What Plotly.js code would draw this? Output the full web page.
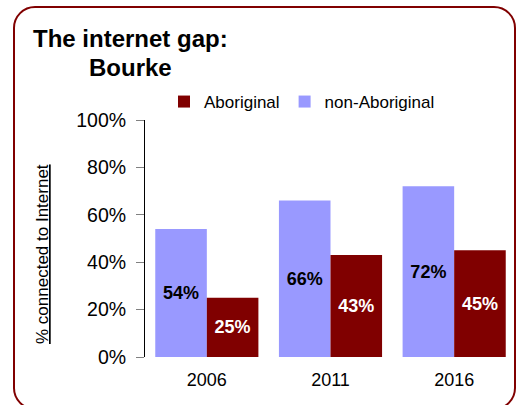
<!DOCTYPE html>
<html>
<head>
<meta charset="utf-8">
<script src="https://cdn.plot.ly/plotly-3.0.1.min.js"></script>
<style>
  html, body { margin: 0; padding: 0; background: #ffffff; }
  #wrap { position: relative; width: 520px; height: 405px; overflow: hidden; }
  #frame { position: absolute; left: 13px; top: 6px; width: 503px; height: 404px;
           box-sizing: border-box; border: 2.5px solid #800000; border-radius: 22px; }
  #chart { position: absolute; left: 0; top: 0; width: 520px; height: 405px; }
</style>
</head>
<body>
<div id="wrap">
  <div id="frame"></div>
  <div id="chart"></div>
</div>
<script>
// ---- data ----
const years = ["2006", "2011", "2016"];
const nonAboriginal = [0.54, 0.66, 0.72];
const aboriginal = [0.25, 0.43, 0.45];
const seriesNames = ["Aboriginal", "non-Aboriginal"];
const titleLine1 = "The internet gap:";
const titleLine2 = "Bourke";
const yAxisTitle = "% connected to Internet";

// ---- layout helpers (pixel -> paper) ----
const W = 520, H = 405;
const M = { l: 145, r: 4, t: 120, b: 48 };
const pw = W - M.l - M.r, ph = H - M.t - M.b;
const px = x => (x - M.l) / pw;
const py = y => (H - M.b - y) / ph;

const sans = '"Liberation Sans", Arial, Helvetica, sans-serif';

const traces = [
  {
    type: "bar", name: seriesNames[1], x: years, y: nonAboriginal,
    marker: { color: "#9999ff" },
    texttemplate: "%{y:.0%}", textposition: "inside", insidetextanchor: "middle",
    textangle: 0, constraintext: "none",
    textfont: { family: sans, size: 18, color: "#000000", weight: "bold" },
    hoverinfo: "skip"
  },
  {
    type: "bar", name: seriesNames[0], x: years, y: aboriginal,
    marker: { color: "#800000" },
    texttemplate: "%{y:.0%}", textposition: "inside", insidetextanchor: "middle",
    textangle: 0, constraintext: "none",
    textfont: { family: sans, size: 18, color: "#ffffff", weight: "bold" },
    hoverinfo: "skip"
  }
];

const layout = {
  width: W, height: H,
  margin: M,
  paper_bgcolor: "rgba(0,0,0,0)",
  plot_bgcolor: "rgba(0,0,0,0)",
  barmode: "group", bargap: 0.166, bargroupgap: 0,
  font: { family: sans, size: 18, color: "#000000" },
  showlegend: true,
  legend: {
    orientation: "h", traceorder: "reversed",
    x: px(164), xanchor: "left", y: py(84), yanchor: "top",
    font: { family: sans, size: 17, color: "#000000" },
    bgcolor: "rgba(0,0,0,0)", itemclick: false, itemdoubleclick: false
  },
  xaxis: {
    type: "category", showline: false, ticks: "", showgrid: false, zeroline: false,
    ticklabelstandoff: 10,
    tickfont: { family: sans, size: 18, color: "#000000" }
  },
  yaxis: {
    range: [0, 1], dtick: 0.2, tickformat: ".0%",
    showline: true, linecolor: "#000000", linewidth: 1,
    ticks: "outside", ticklen: 8, tickcolor: "#808080", tickwidth: 1,
    ticklabelstandoff: 6,
    showgrid: false, zeroline: false,
    tickfont: { family: sans, size: 19.5, color: "#000000" }
  },
  annotations: [
    { text: "<b>" + titleLine1 + "</b>", xref: "paper", yref: "paper",
      x: px(31), xanchor: "left", y: py(38), yanchor: "middle", showarrow: false,
      font: { family: sans, size: 24, color: "#000000" } },
    { text: "<b>" + titleLine2 + "</b>", xref: "paper", yref: "paper",
      x: px(87), xanchor: "left", y: py(67), yanchor: "middle", showarrow: false,
      font: { family: sans, size: 24, color: "#000000" } },
    { text: "<u>" + yAxisTitle + "</u>", xref: "paper", yref: "paper",
      x: px(42), xanchor: "center", y: py(254), yanchor: "middle", showarrow: false,
      textangle: -90,
      font: { family: sans, size: 17, color: "#000000" } }
  ]
};

Plotly.newPlot("chart", traces, layout, { staticPlot: true, displayModeBar: false });
</script>
</body>
</html>
